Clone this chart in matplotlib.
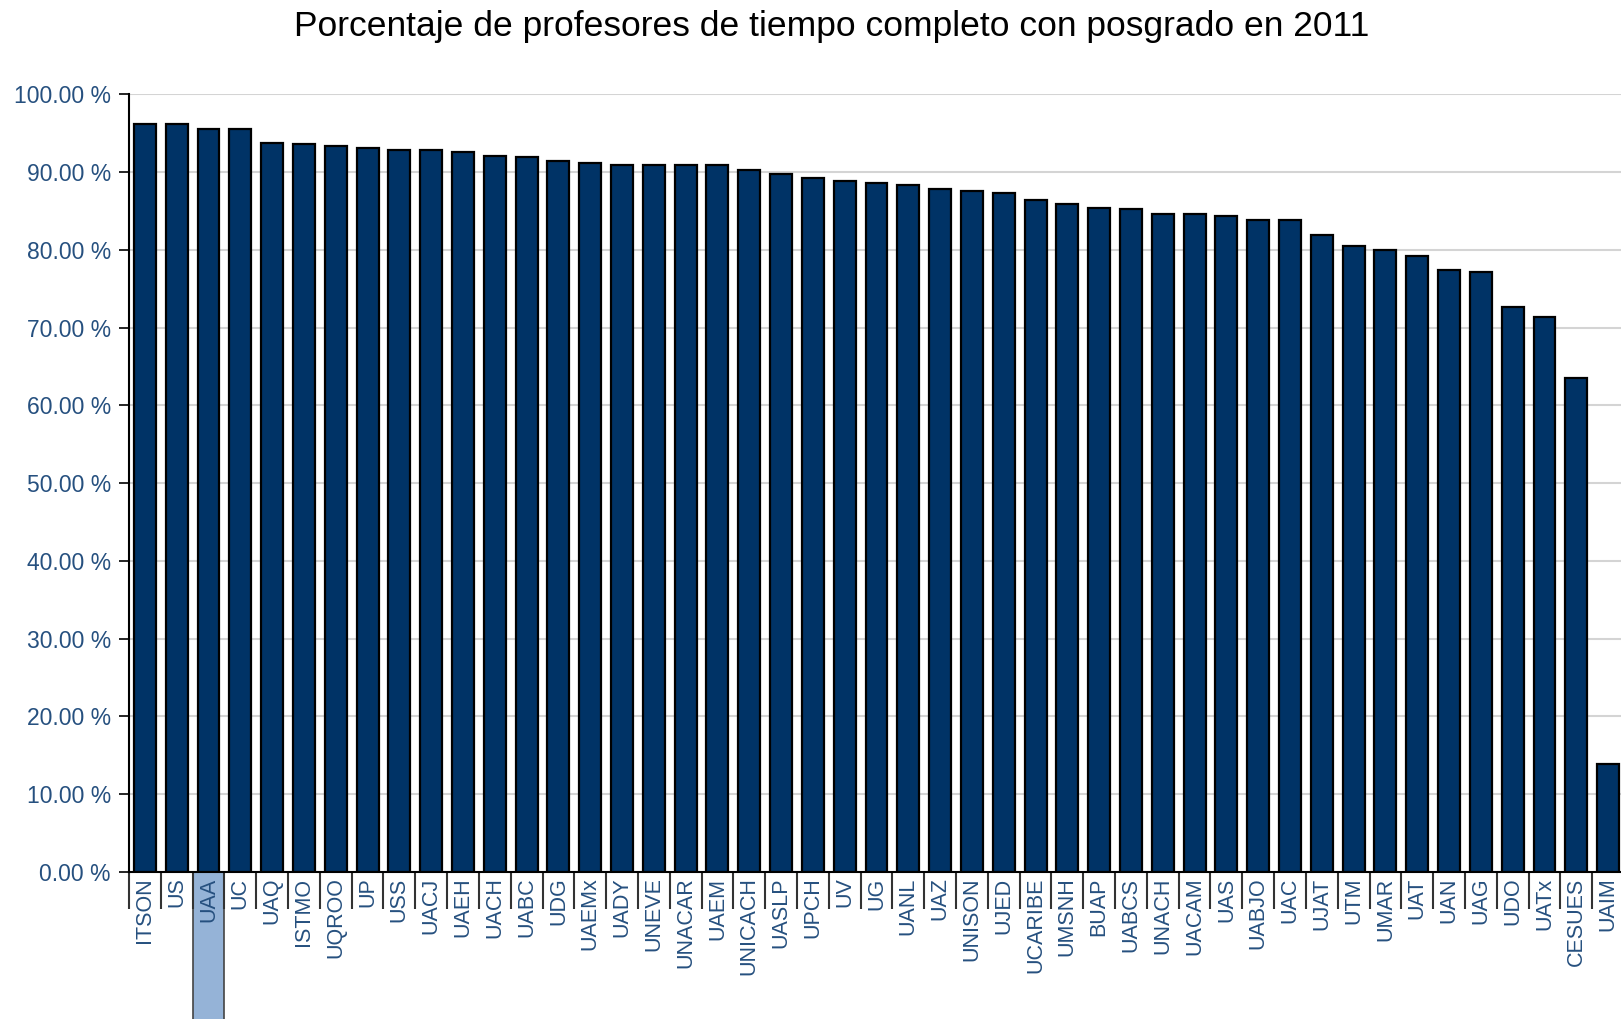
import numpy as np
import matplotlib
matplotlib.use('Agg')
import matplotlib.pyplot as plt
from matplotlib.patches import Rectangle
from matplotlib.transforms import blended_transform_factory

# universidades y porcentaje de PTC con posgrado
universidades = ['ITSON', 'US', 'UAA', 'UC', 'UAQ', 'ISTMO', 'UQROO', 'UP', 'USS',
                 'UACJ', 'UAEH', 'UACH', 'UABC', 'UDG', 'UAEMx', 'UADY', 'UNEVE',
                 'UNACAR', 'UAEM', 'UNICACH', 'UASLP', 'UPCH', 'UV', 'UG', 'UANL',
                 'UAZ', 'UNISON', 'UJED', 'UCARIBE', 'UMSNH', 'BUAP', 'UABCS',
                 'UNACH', 'UACAM', 'UAS', 'UABJO', 'UAC', 'UJAT', 'UTM', 'UMAR',
                 'UAT', 'UAN', 'UAG', 'UDO', 'UATx', 'CESUES', 'UAIM']
porcentajes = [96.2, 96.2, 95.5, 95.5, 93.8, 93.6, 93.4, 93.1, 92.9,
               92.9, 92.6, 92.1, 91.9, 91.4, 91.2, 90.95, 90.95,
               90.95, 90.95, 90.3, 89.75, 89.2, 88.8, 88.55, 88.3,
               87.8, 87.55, 87.35, 86.4, 85.9, 85.4, 85.2,
               84.6, 84.55, 84.3, 83.8, 83.8, 81.9, 80.45, 79.95,
               79.25, 77.35, 77.2, 72.6, 71.4, 63.55, 13.9]
y_ticks = np.arange(0, 101, 10)
resaltada = 'UAA'

azul = '#003366'
azul_txt = '#26507f'

plt.rcParams['font.family'] = ['Liberation Sans', 'DejaVu Sans']

W, H = 1621, 1019
fig = plt.figure(figsize=(W / 100, H / 100), dpi=100)
ax = fig.add_axes([129 / W, 147 / H, (1624 - 129) / W, (872 - 94.3) / H])

n = len(universidades)
x = np.arange(n)
ax.bar(x, porcentajes, width=0.69, color=azul, edgecolor='black', linewidth=1.6, zorder=3)

ax.set_xlim(-0.5, n - 0.5)
ax.set_ylim(0, 100)

# eje y
ax.set_yticks(y_ticks)
ax.set_yticklabels(['%.2f %%' % v for v in y_ticks])
ax.tick_params(axis='y', length=7, width=1.2, color='black', pad=6,
               labelsize=16.5, labelcolor=azul_txt)
ax.grid(axis='y', color='#d4d4d4', linewidth=1.5, zorder=0)

# eje x: separadores largos entre categorias, etiquetas al centro
ax.set_xticks(np.arange(n + 1) - 0.5)
ax.set_xticklabels([])
ax.tick_params(axis='x', which='major', length=26.5, width=1.5, color='#333333')
ax.set_xticks(x, minor=True)
ax.set_xticklabels(universidades, minor=True, rotation=90)
ax.tick_params(axis='x', which='minor', length=0, pad=4, labelsize=15.5,
               labelcolor=azul_txt)
for lbl in ax.get_xticklabels(minor=True):
    lbl.set_verticalalignment('top')

for s in ['top', 'right']:
    ax.spines[s].set_visible(False)
ax.spines['left'].set_linewidth(1.5)
ax.spines['bottom'].set_linewidth(1.5)

# resaltar la etiqueta seleccionada
i = universidades.index(resaltada)
trans = blended_transform_factory(ax.transData, fig.transFigure)
ax.add_patch(Rectangle((i - 0.5, -0.01), 1, 147 / H + 0.01, transform=trans,
                       facecolor='#95b3d7', edgecolor='#444444', linewidth=1.2,
                       clip_on=False, zorder=1))

fig.text(832 / W, 1 - 36 / H, 'Porcentaje de profesores de tiempo completo con posgrado en 2011',
         ha='center', va='baseline', fontsize=25.5, color='black')

plt.savefig('out.png', dpi=100)
